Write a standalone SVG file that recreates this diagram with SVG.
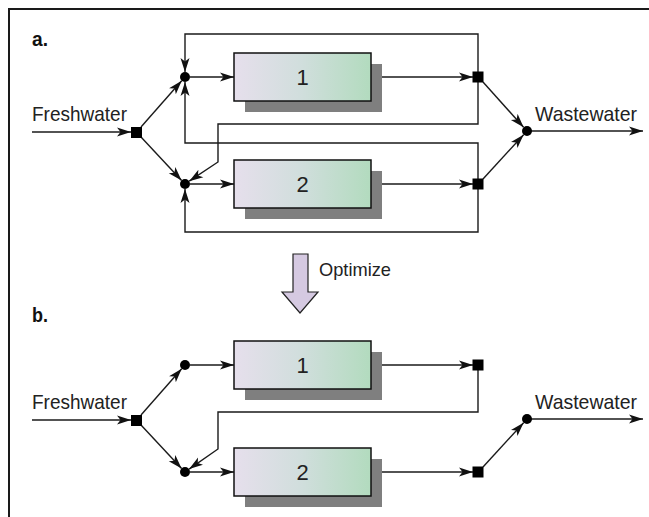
<svg xmlns="http://www.w3.org/2000/svg" width="649" height="517" viewBox="0 0 649 517">
<defs>
<linearGradient id="g" x1="0" y1="0" x2="1" y2="0">
<stop offset="0" stop-color="#e6dfec"/>
<stop offset="0.5" stop-color="#d0dedc"/>
<stop offset="1" stop-color="#b2dbbe"/>
</linearGradient>
<marker id="ah" markerUnits="userSpaceOnUse" markerWidth="16" markerHeight="12" refX="14" refY="5" orient="auto" viewBox="0 0 16 12">
<path d="M0,0.5 L14,5 L0,9.5 L3.5,5 Z" fill="#111"/>
</marker>
<style>
.t{font-family:"Liberation Sans",Arial,sans-serif;fill:#222}
.lbl{font-family:"Liberation Sans",Arial,sans-serif;font-weight:bold;font-size:21px;fill:#111}
.c{fill:none;stroke:#1a1a1a;stroke-width:1.4}
.a{marker-end:url(#ah)}
.box{fill:url(#g);stroke:#111;stroke-width:1.5}
.sh{fill:#7f7f7f}
.sq{fill:#000}
.dot{fill:#000}
</style>
</defs>
<rect width="649" height="517" fill="#fff"/>
<path d="M9,517 V9 H649" fill="none" stroke="#1a1a1a" stroke-width="2"/>
<text class="lbl" x="32" y="46" textLength="16" lengthAdjust="spacingAndGlyphs">a.</text>
<text class="lbl" x="32" y="322" textLength="16" lengthAdjust="spacingAndGlyphs">b.</text>

<g id="connectors">
<!-- panel a -->
<path class="c a" d="M32,132 H131"/>
<path class="c a" d="M141,127 L181.7,80.7"/>
<path class="c a" d="M141,137 L181.6,180.4"/>
<path class="c a" d="M190,77 H234"/>
<path class="c a" d="M190,184 H234"/>
<path class="c a" d="M371,77 H473"/>
<path class="c a" d="M371,184 H473"/>
<path class="c a" d="M478,72 V34 H185 V72"/>
<path class="c a" d="M478,82 V124 H218 V162 L189.2,181.2"/>
<path class="c a" d="M478,179 V143 H185 V82"/>
<path class="c a" d="M478,189 V232 H185 V189"/>
<path class="c a" d="M483,82 L523.6,127.3"/>
<path class="c a" d="M483,179 L523.6,134.7"/>
<path class="c a" d="M527,131 H643"/>
<!-- panel b -->
<path class="c a" d="M32,420 H131"/>
<path class="c a" d="M141,415 L181.7,368.7"/>
<path class="c a" d="M141,425 L181.6,468.4"/>
<path class="c a" d="M190,365 H234"/>
<path class="c a" d="M190,472 H234"/>
<path class="c a" d="M371,365 H473"/>
<path class="c a" d="M371,472 H473"/>
<path class="c a" d="M478,370 V412 H218 V449 L189.1,469.1"/>
<path class="c a" d="M483,467 L523.6,422.7"/>
<path class="c a" d="M527,419 H643"/>
</g>

<g id="a-freshwater"><text class="t" x="32" y="121" font-size="21" textLength="95" lengthAdjust="spacingAndGlyphs">Freshwater</text></g>
<g id="a-split"><rect class="sq" x="131" y="127" width="11" height="11"/></g>
<g id="a-mix1"><circle class="dot" cx="185" cy="77" r="5"/></g>
<g id="a-mix2"><circle class="dot" cx="185" cy="184" r="5"/></g>
<g id="a-unit1">
<rect class="sh" x="245" y="64" width="137" height="48"/>
<rect class="box" x="234" y="53" width="137" height="48"/>
<text class="t" x="302.5" y="85" font-size="22" text-anchor="middle">1</text>
</g>
<g id="a-unit2">
<rect class="sh" x="245" y="171" width="137" height="48"/>
<rect class="box" x="234" y="160" width="137" height="48"/>
<text class="t" x="302.5" y="192" font-size="22" text-anchor="middle">2</text>
</g>
<g id="a-split1"><rect class="sq" x="472.5" y="71.5" width="11" height="11"/></g>
<g id="a-split2"><rect class="sq" x="472.5" y="178.5" width="11" height="11"/></g>
<g id="a-mixout"><circle class="dot" cx="527" cy="131" r="5"/></g>
<g id="a-wastewater"><text class="t" x="535" y="121" font-size="21" textLength="102" lengthAdjust="spacingAndGlyphs">Wastewater</text></g>

<g id="optimize">
<path d="M293,254 H308 V292 H318 L300,313 L282,292 H293 Z" fill="#d5c9e1" stroke="#222" stroke-width="1.2"/>
<text class="t" x="319" y="276" font-size="19" textLength="72" lengthAdjust="spacingAndGlyphs">Optimize</text>
</g>

<g id="b-freshwater"><text class="t" x="32" y="409" font-size="21" textLength="95" lengthAdjust="spacingAndGlyphs">Freshwater</text></g>
<g id="b-split"><rect class="sq" x="131" y="415" width="11" height="11"/></g>
<g id="b-mix1"><circle class="dot" cx="185" cy="365" r="5"/></g>
<g id="b-mix2"><circle class="dot" cx="185" cy="472" r="5"/></g>
<g id="b-unit1">
<rect class="sh" x="245" y="352" width="137" height="48"/>
<rect class="box" x="234" y="341" width="137" height="48"/>
<text class="t" x="302.5" y="373" font-size="22" text-anchor="middle">1</text>
</g>
<g id="b-unit2">
<rect class="sh" x="245" y="459" width="137" height="48"/>
<rect class="box" x="234" y="448" width="137" height="48"/>
<text class="t" x="302.5" y="480" font-size="22" text-anchor="middle">2</text>
</g>
<g id="b-split1"><rect class="sq" x="472.5" y="359.5" width="11" height="11"/></g>
<g id="b-split2"><rect class="sq" x="472.5" y="466.5" width="11" height="11"/></g>
<g id="b-mixout"><circle class="dot" cx="527" cy="419" r="5"/></g>
<g id="b-wastewater"><text class="t" x="535" y="409" font-size="21" textLength="102" lengthAdjust="spacingAndGlyphs">Wastewater</text></g>
</svg>
